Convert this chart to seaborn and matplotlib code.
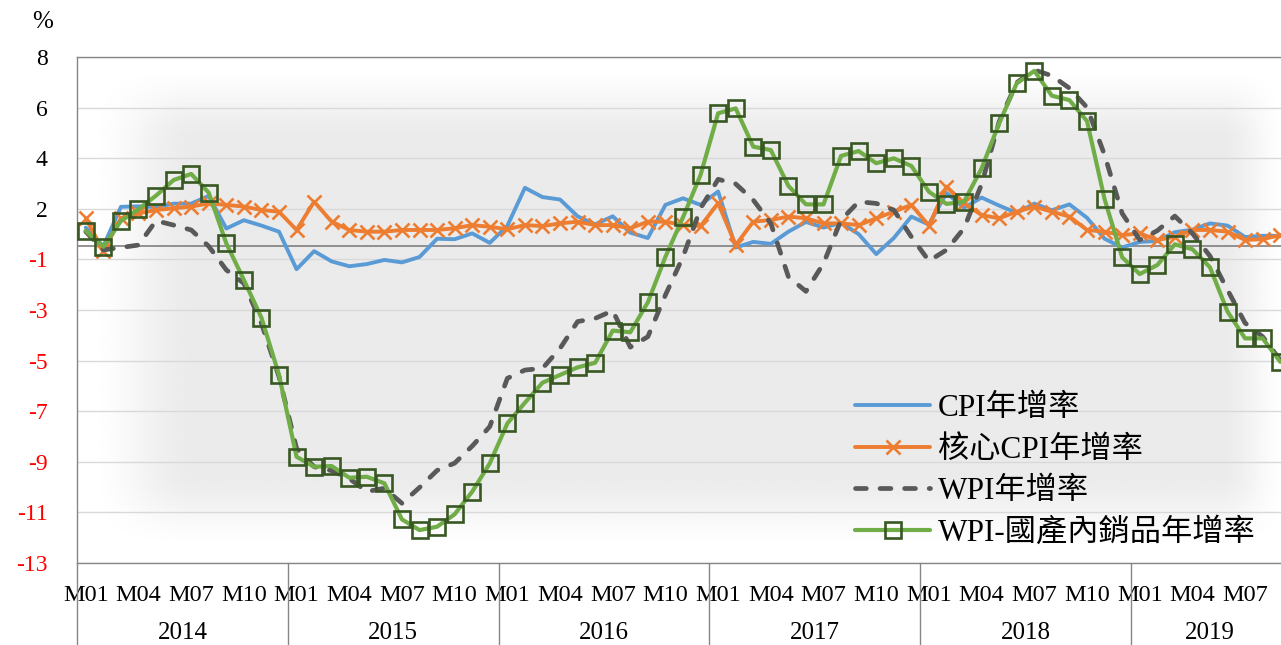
import numpy as np
import pandas as pd
import matplotlib
matplotlib.use("Agg")
import matplotlib.pyplot as plt
import matplotlib.transforms as mtransforms
import seaborn as sns

# ---- data: monthly year-over-year rates (%) ----
years = [2014, 2015, 2016, 2017, 2018, 2019]
months_in_year = [12, 12, 12, 12, 12, 9]
month_tick_labels = ["M01", "M04", "M07", "M10"]

cpi = [0.77, 0.00, 1.62, 1.64, 1.61, 1.75, 1.75, 2.07, 0.73, 1.07, 0.85, 0.60,
       -0.94, -0.20, -0.62, -0.82, -0.73, -0.56, -0.66, -0.44, 0.31, 0.29, 0.53, 0.14,
       0.84, 2.40, 2.02, 1.92, 1.23, 0.90, 1.23, 0.56, 0.34, 1.70, 1.97, 1.70,
       2.25, -0.05, 0.18, 0.10, 0.60, 1.00, 0.77, 0.96, 0.50, -0.32, 0.34, 1.22,
       0.89, 2.19, 1.58, 2.00, 1.67, 1.37, 1.75, 1.48, 1.72, 1.17, 0.31, -0.05,
       0.18, 0.22, 0.58, 0.68, 0.94, 0.85, 0.38, 0.43, 0.43]

core_cpi = [1.15, -0.20, 1.15, 1.35, 1.49, 1.56, 1.63, 1.76, 1.70, 1.63, 1.49, 1.42,
            0.67, 1.83, 1.01, 0.67, 0.60, 0.60, 0.67, 0.67, 0.67, 0.74, 0.87, 0.80,
            0.70, 0.87, 0.83, 0.94, 1.01, 0.87, 0.87, 0.74, 1.01, 1.01, 0.87, 0.83,
            1.77, 0.05, 1.01, 1.08, 1.22, 1.15, 0.94, 0.94, 0.87, 1.15, 1.42, 1.70,
            0.85, 2.45, 1.77, 1.28, 1.15, 1.42, 1.63, 1.42, 1.22, 0.67, 0.60, 0.46,
            0.53, 0.26, 0.39, 0.67, 0.67, 0.60, 0.26, 0.29, 0.46]

wpi = [0.60, -0.15, -0.05, 0.05, 1.05, 0.87, 0.67, 0.00, -0.97, -1.52, -3.16, -5.35,
       -8.30, -9.05, -9.21, -9.53, -10.07, -9.93, -10.55, -9.90, -9.20, -8.90, -8.20, -7.40,
       -5.42, -5.08, -5.01, -4.19, -3.09, -2.96, -2.64, -4.14, -3.71, -2.00, -0.43, 1.56,
       2.75, 2.56, 1.90, 0.94, -1.25, -1.85, -0.70, 1.08, 1.83, 1.76, 1.49, 0.39,
       -0.60, -0.15, 0.74, 2.55, 5.12, 6.72, 7.24, 7.00, 6.49, 5.70, 3.75, 1.35,
       0.26, 0.64, 1.24, 0.53, -0.40, -1.79, -3.15, -3.71, -4.67]

wpi_domestic = [0.63, -0.02, 1.04, 1.52, 2.08, 2.72, 2.97, 2.20, 0.12, -1.38, -2.93, -5.28,
                -8.64, -9.05, -9.02, -9.50, -9.46, -9.73, -11.21, -11.65, -11.51, -11.00, -10.07, -8.91,
                -7.27, -6.42, -5.60, -5.28, -4.97, -4.78, -3.46, -3.53, -2.30, -0.43, 1.19, 2.93,
                5.46, 5.66, 4.09, 3.95, 2.48, 1.72, 1.72, 3.71, 3.91, 3.41, 3.61, 3.30,
                2.24, 1.74, 1.83, 3.20, 5.05, 6.69, 7.20, 6.18, 6.00, 5.14, 1.94, -0.45,
                -1.14, -0.77, 0.08, -0.12, -0.86, -2.68, -3.78, -3.78, -4.74]

series_names = ["CPI年增率", "核心CPI年增率", "WPI年增率", "WPI-國產內銷品年增率"]

# ---- table for seaborn ----
period, month_no = [], []
for yr, n in zip(years, months_in_year):
    for m in range(1, n + 1):
        period.append(f"{yr}-M{m:02d}")
        month_no.append(m)
df = pd.DataFrame({
    "idx": np.arange(len(period)),
    "period": period,
    "cpi": cpi,
    "core_cpi": core_cpi,
    "wpi": wpi,
    "wpi_domestic": wpi_domestic,
})

# value axis: 10 equal divisions, labels rounded to whole percent
Y_MIN, Y_MAX = -13.0, 7.77

sns.set_theme(style="white")
plt.rcParams["font.family"] = ["Liberation Serif", "Noto Sans CJK TC"]
plt.rcParams["text.color"] = "black"
plt.rcParams["xtick.color"] = "black"
plt.rcParams["ytick.color"] = "black"

W, H = 1281, 645
fig = plt.figure(figsize=(W / 100, H / 100), dpi=100)
fig.patch.set_facecolor("white")
ax = fig.add_axes([77 / W, (H - 563) / H, 1212 / W, 506 / H])

# soft grey glow behind the plot area
nx, ny = 600, 300
px = 77 + np.linspace(0, 1, nx) * 1212
py = 563 - np.linspace(0, 1, ny) * 506


def ramp(t):
    t = np.clip(t, 0, 1)
    return t * t * (3 - 2 * t)


fx = ramp((px - 85) / 110) * ramp((1290 - px) / 70)
fy = ramp((py - 62) / 80) * ramp((552 - py) / 80)
shade = 1 - 0.08 * np.outer(fy, fx)
ax.imshow(shade, extent=(0, 1, 0, 1), transform=ax.transAxes, cmap="gray",
          vmin=0, vmax=1, aspect="auto", origin="lower", zorder=0,
          interpolation="bilinear")

ax.axhline(0, color="#808080", lw=1.2, zorder=1)

handles = []
sns.lineplot(data=df, x="idx", y="cpi", ax=ax, color="#5B9BD5", lw=2.8,
             zorder=3, legend=False)
handles.append(ax.lines[-1])
sns.lineplot(data=df, x="idx", y="core_cpi", ax=ax, color="#ED7D31", lw=2.8,
             marker="x", markersize=10, markeredgewidth=1.9,
             markeredgecolor="#ED7D31", zorder=4, legend=False)
handles.append(ax.lines[-1])
sns.lineplot(data=df, x="idx", y="wpi", ax=ax, color="#595959", lw=3.4,
             zorder=5, legend=False)
ax.lines[-1].set_linestyle((0, (2.3, 2.9)))
ax.lines[-1].set_dash_capstyle("round")
handles.append(ax.lines[-1])
sns.lineplot(data=df, x="idx", y="wpi_domestic", ax=ax, color="#70AD47", lw=3.0,
             marker="s", markersize=11.5, markerfacecolor="none",
             markeredgecolor="#385723", markeredgewidth=1.9, zorder=6,
             legend=False)
handles.append(ax.lines[-1])

ax.set_xlim(-0.5, len(period) - 0.5)
ax.set_ylim(Y_MIN, Y_MAX)
ax.set_xlabel("")
ax.set_ylabel("")

yt = np.linspace(Y_MIN, Y_MAX, 11)
ax.set_yticks(yt)
ax.set_yticklabels([f"{int(round(v))}" for v in yt])
for lab, v in zip(ax.get_yticklabels(), yt):
    lab.set_color("#FF0000" if v < 0 else "black")
ax.yaxis.grid(True, color="#D9D9D9", lw=1.0)
ax.xaxis.grid(False)
ax.set_axisbelow(True)

xt = [i for i, m in enumerate(month_no) if (m - 1) % 3 == 0]
ax.set_xticks(xt)
ax.set_xticklabels([month_tick_labels[(month_no[i] - 1) // 3] for i in xt])
ax.tick_params(axis="x", length=0, pad=15.5, labelsize=17.5)
ax.tick_params(axis="y", length=0, pad=21, labelsize=17)

for side in ["top", "bottom", "left", "right"]:
    ax.spines[side].set_color("#868686")
    ax.spines[side].set_linewidth(1.0)

# year groups under the month labels
trans = mtransforms.blended_transform_factory(ax.transData, ax.transAxes)
start = 0
for yr, n in zip(years, months_in_year):
    ax.text(start + (n - 1) / 2, -0.138, str(yr), transform=trans,
            ha="center", va="center", fontsize=18)
    ax.plot([start - 0.5, start - 0.5], [0, -0.18], transform=trans,
            color="#868686", lw=1.0, clip_on=False)
    start += n

fig.text(43 / W, 1 - 22 / H, "%", ha="center", va="center", fontsize=18)

ax.legend(handles, series_names, loc="upper left",
          bbox_to_anchor=(855 / W, 1 - 394 / H), bbox_transform=fig.transFigure,
          frameon=False, fontsize=22.5, handlelength=2.4, handletextpad=0.26,
          labelspacing=0.4, borderpad=0, borderaxespad=0, numpoints=1)

fig.savefig("out.png", dpi=100, facecolor="white")
